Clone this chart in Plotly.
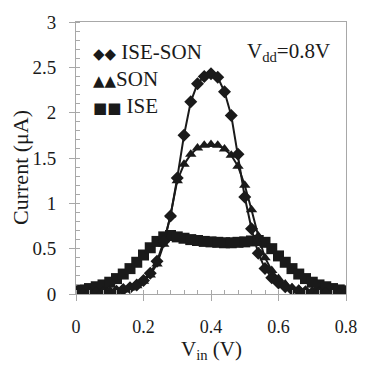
import plotly.graph_objects as go

vin = [round(i * 0.02, 2) for i in range(41)]

ise_son = [0.0, 0.0, 0.005, 0.01, 0.015, 0.02, 0.03, 0.05, 0.07, 0.10, 0.15,
           0.23, 0.36, 0.58, 0.86, 1.28, 1.75, 2.12, 2.32, 2.40, 2.43, 2.39,
           2.23, 1.97, 1.54, 1.07, 0.72, 0.45, 0.28, 0.18, 0.12, 0.08, 0.05,
           0.035, 0.025, 0.015, 0.01, 0.005, 0.0, 0.0, 0.0]

son = [0.0, 0.0, 0.005, 0.01, 0.015, 0.02, 0.03, 0.045, 0.065, 0.09, 0.14,
       0.21, 0.33, 0.55, 0.87, 1.25, 1.43, 1.54, 1.61, 1.64, 1.65, 1.64,
       1.60, 1.53, 1.41, 1.20, 0.93, 0.64, 0.40, 0.26, 0.17, 0.11, 0.07,
       0.05, 0.03, 0.02, 0.015, 0.01, 0.005, 0.0, 0.0]

ise = [0.035, 0.045, 0.06, 0.08, 0.10, 0.13, 0.17, 0.22, 0.28, 0.35, 0.43,
       0.51, 0.58, 0.63, 0.645, 0.63, 0.615, 0.60, 0.59, 0.58, 0.575, 0.57,
       0.565, 0.565, 0.57, 0.575, 0.585, 0.59, 0.57, 0.50, 0.42, 0.35, 0.28,
       0.22, 0.17, 0.13, 0.10, 0.08, 0.06, 0.045, 0.035]

x_ticks = [0, 0.2, 0.4, 0.6, 0.8]
y_ticks = [0, 0.5, 1, 1.5, 2, 2.5, 3]

legend_glyphs = ["\u25c6\u25c6", "\u25b2\u25b2", "\u25a0\u25a0"]
legend_glyph_sizes = [15, 15, 15]
legend_names = [" ISE-SON", "SON", " ISE"]
vdd_label = "V<sub>dd</sub>=0.8V"
x_title = "V<sub>in</sub> (V)"
y_title = "Current (\u03bcA)"

FONT = "Liberation Serif"
INK = "#1a1a1a"
AX = "#a8a8a8"

fig = go.Figure()
fig.add_trace(go.Scatter(x=vin, y=ise, mode="lines+markers", name="ISE",
                         line=dict(color=INK, width=2),
                         marker=dict(symbol="square", size=11, color=INK)))
fig.add_trace(go.Scatter(x=vin, y=son, mode="lines+markers", name="SON",
                         line=dict(color=INK, width=2),
                         marker=dict(symbol="triangle-up", size=10, color=INK)))
fig.add_trace(go.Scatter(x=vin, y=ise_son, mode="lines+markers", name="ISE-SON",
                         line=dict(color=INK, width=2),
                         marker=dict(symbol="diamond", size=10, color=INK)))

W, H = 369, 365
L, R, T, B = 76, 13, 20, 71
pw, ph = W - L - R, H - T - B

def px(xp):
    return (xp - L) / pw

def py(yp):
    return (H - B - yp) / ph

ann = []
for i, (g, gs, n) in enumerate(zip(legend_glyphs, legend_glyph_sizes, legend_names)):
    ann.append(dict(text=f"<span style='font-family:DejaVu Sans;font-size:{gs}px'>{g}</span>{n}",
                    x=px(92), y=py(50 + i * 27.5), xref="paper", yref="paper",
                    xanchor="left", yanchor="middle", showarrow=False,
                    font=dict(family=FONT, size=21, color=INK)))
ann.append(dict(text=vdd_label, x=px(341), y=py(50), xref="paper", yref="paper",
                xanchor="right", yanchor="middle", showarrow=False,
                font=dict(family=FONT, size=21, color=INK)))
ann.append(dict(text=x_title, x=px(216), y=py(350), xref="paper", yref="paper",
                xanchor="center", yanchor="middle", showarrow=False,
                font=dict(family=FONT, size=21, color=INK)))
ann.append(dict(text=y_title, x=px(19), y=py(167), xref="paper", yref="paper",
                xanchor="center", yanchor="middle", showarrow=False, textangle=-90,
                font=dict(family=FONT, size=22, color=INK)))

fig.update_layout(
    width=W, height=H,
    margin=dict(l=L, r=R, t=T, b=B),
    paper_bgcolor="white", plot_bgcolor="white",
    showlegend=False,
    font=dict(family=FONT, color=INK, size=18),
    annotations=ann,
    xaxis=dict(range=[0, 0.8], tickvals=x_ticks, ticktext=[str(v) for v in x_ticks],
               showgrid=False, zeroline=False, showline=True, linecolor=AX, linewidth=1,
               mirror=True, ticks="outside", ticklen=6, tickcolor=AX,
               ticklabelstandoff=10,
               minor=dict(ticks="inside", dtick=0.04, ticklen=4, tickcolor=AX, showgrid=False),
               tickfont=dict(size=18, family=FONT)),
    yaxis=dict(range=[0, 3], tickvals=y_ticks, ticktext=["0", "0.5", "1", "1.5", "2", "2.5", "3"],
               showgrid=False, zeroline=False, showline=True, linecolor=AX, linewidth=1,
               mirror=True, ticks="outside", ticklen=6, tickcolor=AX,
               ticklabelstandoff=9,
               minor=dict(ticks="inside", dtick=0.1, ticklen=4, tickcolor=AX, showgrid=False),
               tickfont=dict(size=19, family=FONT)),
)

fig.write_html("out.html")
